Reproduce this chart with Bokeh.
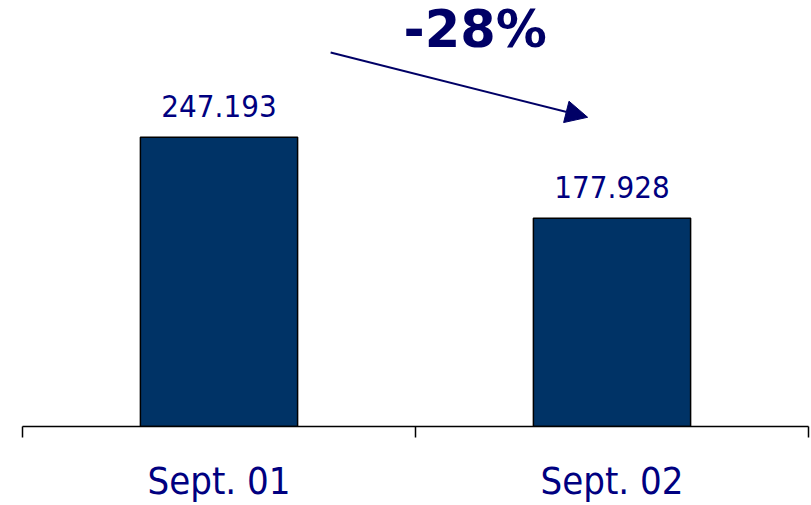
from bokeh.plotting import figure
from bokeh.models import Range1d, FixedTicker, LabelSet, Label, ColumnDataSource, Arrow, NormalHead
from bokeh.core.properties import value
from bokeh.embed import file_html
from bokeh.resources import INLINE

categories = ["Sept. 01", "Sept. 02"]
values = [247.193, 177.928]
value_labels = ["247.193", "177.928"]

xs = [i + 0.5 for i in range(len(categories))]
change = round((values[1] / values[0] - 1) * 100)
change_label = f"{change}%"

BAR = "#003366"
NAVY = "#000080"
DARK = "#000066"
FONT = "DejaVu Sans Condensed"

p = figure(width=811, height=505, output_backend="svg", toolbar_location=None,
           x_range=Range1d(0, len(categories)), y_range=Range1d(0, 364),
           y_axis_location=None, min_border_left=22, min_border_right=3,
           min_border_top=0, min_border_bottom=0)
p.outline_line_color = None
p.xgrid.visible = False
p.ygrid.visible = False

src = ColumnDataSource(dict(x=xs, top=values, lab=value_labels))
p.vbar(x="x", top="top", width=0.4, bottom=0, source=src,
       fill_color=BAR, line_color="black", line_width=1.5)

p.add_layout(LabelSet(x="x", y="top", text="lab", source=src, y_offset=20,
                      text_align="center", text_baseline="alphabetic",
                      text_color=NAVY, text_font=value(FONT), text_font_size="31px"))

p.add_layout(Label(x=1.152, y=values[0] * 1.374, text=change_label,
                   text_align="center", text_baseline="middle",
                   text_color=DARK, text_font="DejaVu Sans", text_font_style="bold",
                   text_font_size="51px"))

p.add_layout(Arrow(x_start=0.784, y_start=values[0] * 1.293,
                   x_end=1.438, y_end=values[1] * 1.485,
                   line_color=DARK, line_width=2,
                   end=NormalHead(size=22, fill_color=DARK, line_color=DARK)))

ax = p.xaxis[0]
ax.ticker = FixedTicker(ticks=xs, minor_ticks=list(range(len(categories) + 1)))
ax.major_label_overrides = {x: c for x, c in zip(xs, categories)}
ax.major_tick_line_color = None
ax.major_tick_in = 0
ax.major_tick_out = 0
ax.minor_tick_in = 0
ax.minor_tick_out = 11
ax.minor_tick_line_color = "black"
ax.minor_tick_line_width = 1.5
ax.axis_line_color = "black"
ax.axis_line_width = 1.5
ax.major_label_standoff = 21
ax.major_label_text_font = FONT
ax.major_label_text_font_size = "38px"
ax.major_label_text_color = NAVY

open("out.html", "w").write(file_html(p, INLINE))
